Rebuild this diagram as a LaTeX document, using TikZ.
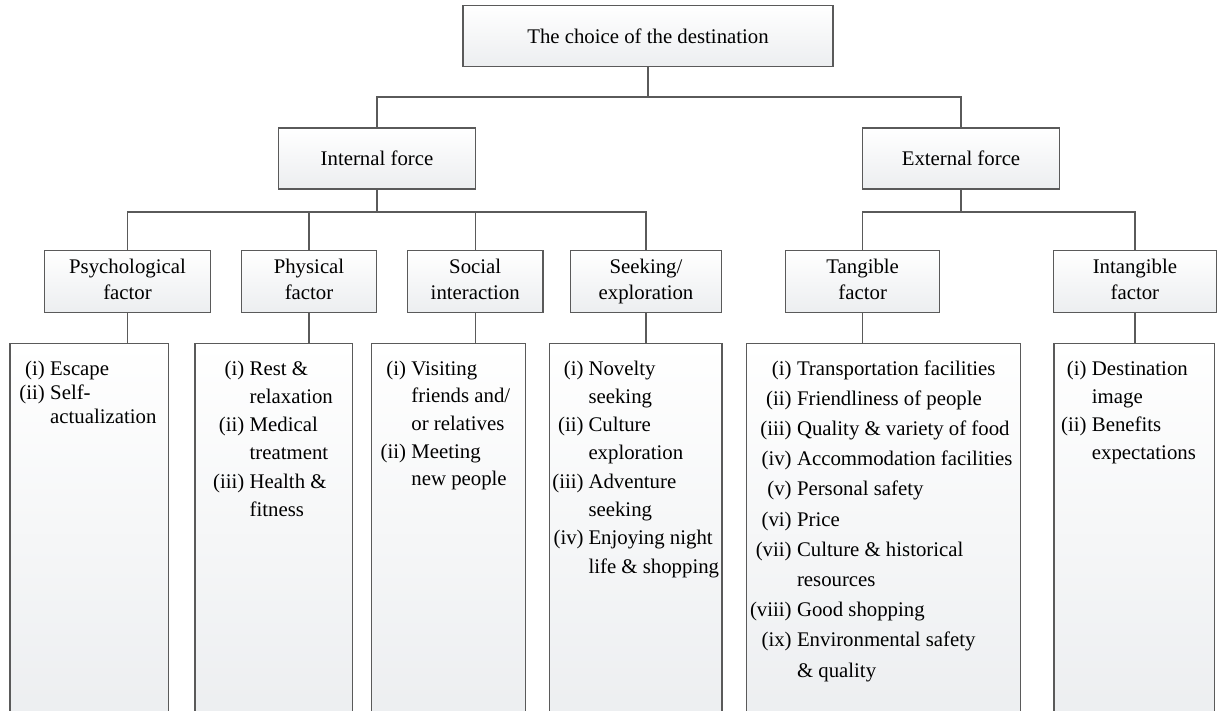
\documentclass[tikz,border=0pt]{standalone}
\usepackage{fontspec}
\setmainfont{Liberation Serif}
\definecolor{edgec}{HTML}{5A5A5A}
\definecolor{shadec}{HTML}{ECEEF0}
\begin{document}
\begin{tikzpicture}[x=1pt,y=-1pt,
  box/.style={draw=edgec, line width=1.2pt, top color=white, bottom color=shadec,
    minimum height=61.5, inner sep=0pt, align=center, font=\fontsize{20.8}{26}\selectfont},
  listbox/.style={draw=edgec, line width=1.2pt, top color=white, bottom color=shadec,
    inner sep=0pt, anchor=north west, minimum height=380},
  conn/.style={draw=edgec, line width=1.2pt},
  lab/.style={anchor=base east, inner sep=0pt},
  itm/.style={anchor=base west, inner sep=0pt}]
\useasboundingbox (0,0) rectangle (1217,711);

% level 1 and 2
\node[box, minimum width=370] (top) at (648,36) {The choice of the destination};
\node[box, minimum width=197, minimum height=61] (int) at (377,158.5) {Internal force};
\node[box, minimum width=197, minimum height=61] (ext) at (961,158.5) {External force};

% level 3
\node[box, minimum width=166.5] (psy) at (127.5,281.5) {Psychological\strut\\factor\strut};
\node[box, minimum width=135.6] (phy) at (309,281.5) {Physical\strut\\factor\strut};
\node[box, minimum width=135.7] (soc) at (475.2,281.5) {Social\strut\\interaction\strut};
\node[box, minimum width=150.5] (seek) at (646,281.5) {Seeking/\strut\\exploration\strut};
\node[box, minimum width=153.8] (tan) at (862.7,281.5) {Tangible\strut\\factor\strut};
\node[box, minimum width=163.2] (intg) at (1134.9,281.5) {Intangible\strut\\factor\strut};

% level 4 boxes
\node[listbox, minimum width=158.3] (lpsy) at (9.4,342.7) {};
\node[listbox, minimum width=157.8] (lphy) at (194.4,342.7) {};
\node[listbox, minimum width=153.9] (lsoc) at (370.8,342.7) {};
\node[listbox, minimum width=172.5] (lseek) at (548.8,342.7) {};
\node[listbox, minimum width=273.8] (ltan) at (745.7,342.7) {};
\node[listbox, minimum width=160.4] (lintg) at (1053.3,342.7) {};

% list texts
\node[lab] (tpsy) at (45,375) {\fontsize{20.8}{24}\selectfont\begin{tabular}[t]{@{}r@{}}(i)\\(ii)\\ \end{tabular}};
\node[itm] (ipsy) at (50,375) {\fontsize{20.8}{24}\selectfont\begin{tabular}[t]{@{}l@{}}Escape\\Self-\\actualization\end{tabular}};

\node[lab] (tphy) at (244.5,375) {\fontsize{20.8}{28.3}\selectfont\begin{tabular}[t]{@{}r@{}}(i)\\ \\(ii)\\ \\(iii)\\ \end{tabular}};
\node[itm] (iphy) at (249.5,375) {\fontsize{20.8}{28.3}\selectfont\begin{tabular}[t]{@{}l@{}}Rest \&\\relaxation\\Medical\\treatment\\Health \&\\fitness\end{tabular}};

\node[lab] (tsoc) at (406.2,375) {\fontsize{20.8}{27.7}\selectfont\begin{tabular}[t]{@{}r@{}}(i)\\ \\ \\(ii)\\ \end{tabular}};
\node[itm] (isoc) at (411.2,375) {\fontsize{20.8}{27.7}\selectfont\begin{tabular}[t]{@{}l@{}}Visiting\\friends and/\\or relatives\\Meeting\\new people\end{tabular}};

\node[lab] (tseek) at (583.8,375) {\fontsize{20.8}{28.3}\selectfont\begin{tabular}[t]{@{}r@{}}(i)\\ \\(ii)\\ \\(iii)\\ \\(iv)\\ \end{tabular}};
\node[itm] (iseek) at (588.3,375) {\fontsize{20.8}{28.3}\selectfont\begin{tabular}[t]{@{}l@{}}Novelty\\seeking\\Culture\\exploration\\Adventure\\seeking\\Enjoying night\\life \& shopping\end{tabular}};

\node[lab] (ttan) at (791.8,375) {\fontsize{20.8}{30.2}\selectfont\begin{tabular}[t]{@{}r@{}}(i)\\(ii)\\(iii)\\(iv)\\(v)\\(vi)\\(vii)\\ \\(viii)\\(ix)\\ \end{tabular}};
\node[itm] (itan) at (796.8,375) {\fontsize{20.8}{30.2}\selectfont\begin{tabular}[t]{@{}l@{}}Transportation facilities\\Friendliness of people\\Quality \& variety of food\\Accommodation facilities\\Personal safety\\Price\\Culture \& historical\\resources\\Good shopping\\Environmental safety\\\& quality\end{tabular}};

\node[lab] (tintg) at (1086.7,375) {\fontsize{20.8}{28}\selectfont\begin{tabular}[t]{@{}r@{}}(i)\\ \\(ii)\\ \end{tabular}};
\node[itm] (iintg) at (1091.7,375) {\fontsize{20.8}{28}\selectfont\begin{tabular}[t]{@{}l@{}}Destination\\image\\Benefits\\expectations\end{tabular}};

% connectors
\coordinate (h0) at (0,97);
\coordinate (h1) at (0,212);
\draw[conn] (top.south) -- (top.south |- h0);
\draw[conn] (int.north) |- (ext.north |- h0) -- (ext.north);

\draw[conn] (int.south) -- (int.south |- h1);
\draw[conn] (psy.north) |- (seek.north |- h1) -- (seek.north);
\draw[conn] (phy.north) -- (phy.north |- h1);
\draw[conn] (soc.north) -- (soc.north |- h1);

\draw[conn] (ext.south) -- (ext.south |- h1);
\draw[conn] (tan.north) |- (intg.north |- h1) -- (intg.north);

\draw[conn] (psy.south) -- (psy.south |- lpsy.north);
\draw[conn] (phy.south) -- (phy.south |- lphy.north);
\draw[conn] (soc.south) -- (soc.south |- lsoc.north);
\draw[conn] (seek.south) -- (seek.south |- lseek.north);
\draw[conn] (tan.south) -- (tan.south |- ltan.north);
\draw[conn] (intg.south) -- (intg.south |- lintg.north);
\end{tikzpicture}
\end{document}
